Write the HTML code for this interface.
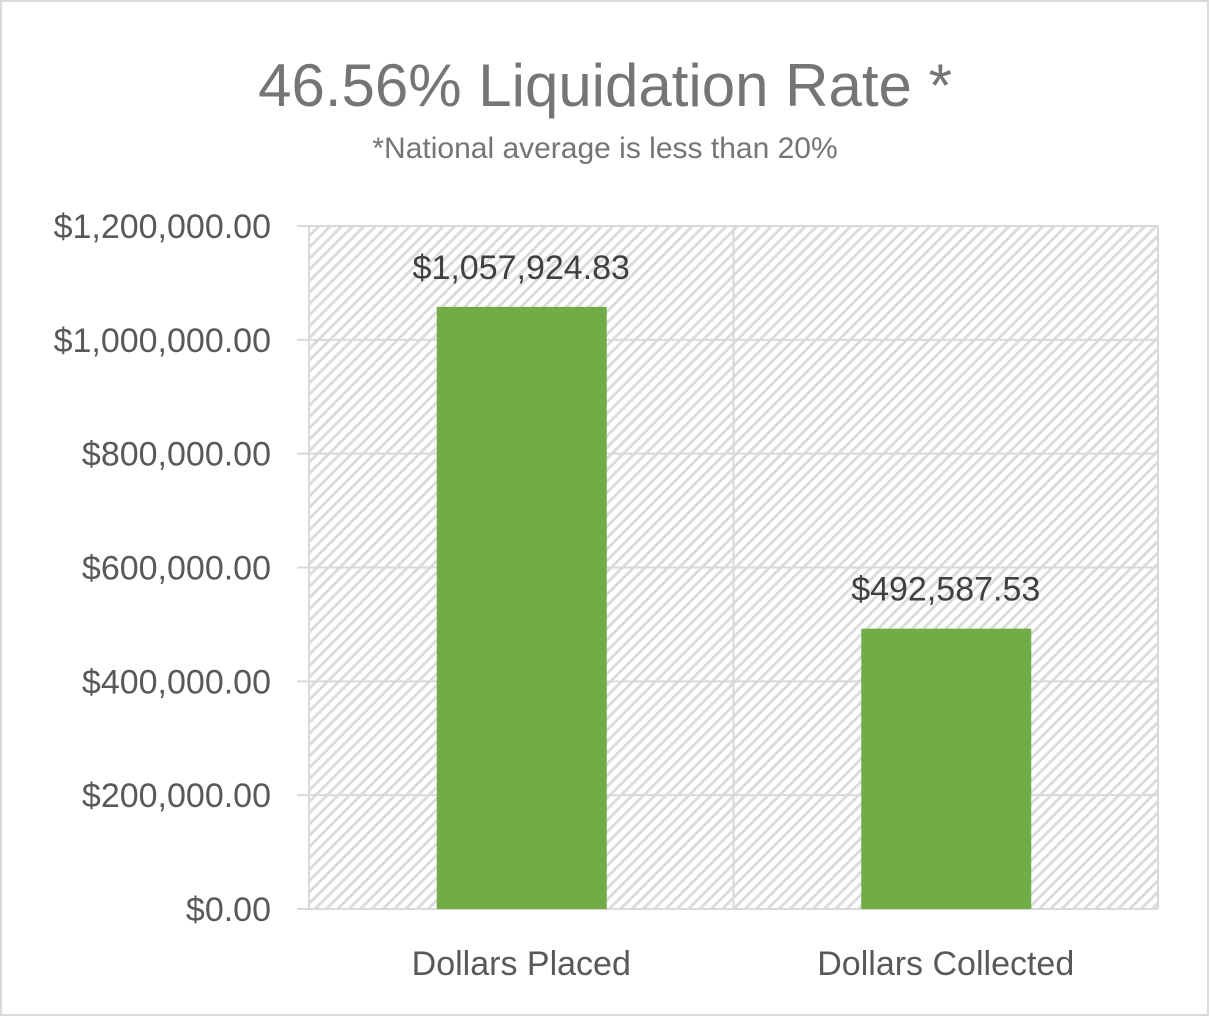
<!DOCTYPE html>
<html><head><meta charset="utf-8"><style>
html,body{margin:0;padding:0;background:#fff}
svg text{font-family:"Liberation Sans",sans-serif}
</style></head><body>
<svg id="c" width="1210" height="1017" xmlns="http://www.w3.org/2000/svg">
<defs>
<pattern id="hatch" patternUnits="userSpaceOnUse" width="8" height="8" patternTransform="rotate(45)">
<rect width="8" height="8" fill="#fff"/>
<rect x="0" y="0" width="3" height="8" fill="#dcdcdc"/>
</pattern>
</defs>
<rect x="1" y="1" width="1207" height="1014" fill="#fff" stroke="#d9d9d9" stroke-width="2"/>
<text x="605" y="106" text-anchor="middle" font-size="60" fill="#757575">46.56% Liquidation Rate *</text>
<text x="605" y="158" text-anchor="middle" font-size="30" fill="#757575">*National average is less than 20%</text>
<g id="plot"></g>
</svg>
<script>
const categories = ["Dollars Placed", "Dollars Collected"];
const values = [1057924.83, 492587.53];
const valueLabels = ["$1,057,924.83", "$492,587.53"];
const ticks = [0, 200000, 400000, 600000, 800000, 1000000, 1200000];
const tickLabels = ["$0.00","$200,000.00","$400,000.00","$600,000.00","$800,000.00","$1,000,000.00","$1,200,000.00"];

const NS = "http://www.w3.org/2000/svg";
const L = 309, R = 1158, T = 226, B = 909, maxV = 1200000;
const y = v => B - (v / maxV) * (B - T);
const band = (R - L) / categories.length;
const x = i => L + band * i;
const g = document.getElementById('plot');
function mk(tag, attrs){ const e = document.createElementNS(NS, tag); for (const k in attrs) e.setAttribute(k, attrs[k]); g.appendChild(e); return e; }

const bg = mk('rect', {x: L, y: T, width: R - L, height: B - T, fill: 'url(#hatch)'});



ticks.forEach((t, i) => {
  const ln = mk('line', {x1: 297, x2: R, y1: y(t), y2: y(t), stroke: '#d9d9d9', 'stroke-width': 2});
  
  
  const tx = mk('text', {x: 271, y: y(t) + 12, 'text-anchor': 'end', 'font-size': 34, fill: '#595959'});
  tx.textContent = tickLabels[i];
  
  
});
for (let i = 0; i <= categories.length; i++) {
  const vl = mk('line', {x1: x(i), x2: x(i), y1: T, y2: B + (i === 0 ? 0 : 0), stroke: '#d9d9d9', 'stroke-width': 2});
  
  
}
categories.forEach((c, i) => {
  const cx = x(i) + band / 2, bw = 170;
  const bar = mk('rect', {x: cx - bw / 2 + 0.5, y: y(values[i]), width: bw, height: B - y(values[i]), fill: '#70ad47'});
  
  
  const lbl = mk('text', {x: cx, y: y(values[i]) - 28, 'text-anchor': 'middle', 'font-size': 34, fill: '#404040'});
  lbl.textContent = valueLabels[i];
  
  
  const cl = mk('text', {x: cx, y: 975, 'text-anchor': 'middle', 'font-size': 34, fill: '#595959'});
  cl.textContent = c;
  
  
});
</script>
</body></html>
